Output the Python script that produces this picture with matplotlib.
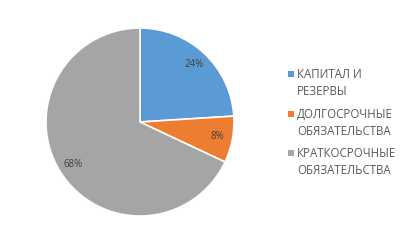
import matplotlib
matplotlib.use('Agg')
import matplotlib.pyplot as plt
from matplotlib.patches import Rectangle

labels = ['КАПИТАЛ И\nРЕЗЕРВЫ', 'ДОЛГОСРОЧНЫЕ\nОБЯЗАТЕЛЬСТВА', 'КРАТКОСРОЧНЫЕ\nОБЯЗАТЕЛЬСТВА']
values = [24, 8, 68]
colors = ['#5B9BD5', '#ED7D31', '#A5A5A5']

W, H = 408, 245
fig = plt.figure(figsize=(W / 100, H / 100), dpi=100)
plt.rcParams['font.family'] = ['Open Sans', 'DejaVu Sans']

# pie axes: centre ~ (140,122) px, radius ~94 px
cx, cy, r = 140, 122, 94
ax = fig.add_axes([(cx - r) / W, 1 - (cy + r) / H, 2 * r / W, 2 * r / H])
wedges, texts, autotexts = ax.pie(values, colors=colors, startangle=90, counterclock=False,
                                  autopct='%d%%', pctdistance=0.84,
                                  wedgeprops=dict(edgecolor='white', linewidth=1.2),
                                  textprops=dict(fontsize=7, color='#404040'))
ax.set_xlim(-1, 1)
ax.set_ylim(-1, 1)
ax.set_aspect('equal')
ax.axis('off')

# legend drawn by hand so the marker sits on the first line
ys = [74, 114, 153]
for lab, col, y in zip(labels, colors, ys):
    fig.patches.append(Rectangle((288 / W, 1 - (y + 3) / H), 6 / W, 6 / H,
                                 transform=fig.transFigure, facecolor=col, edgecolor='none'))
    fig.text(297 / W, 1 - (y - 6) / H, lab, fontsize=8.3, color='#595959', va='top',
             ha='left', linespacing=1.4)

fig.savefig('out.png', dpi=100)
